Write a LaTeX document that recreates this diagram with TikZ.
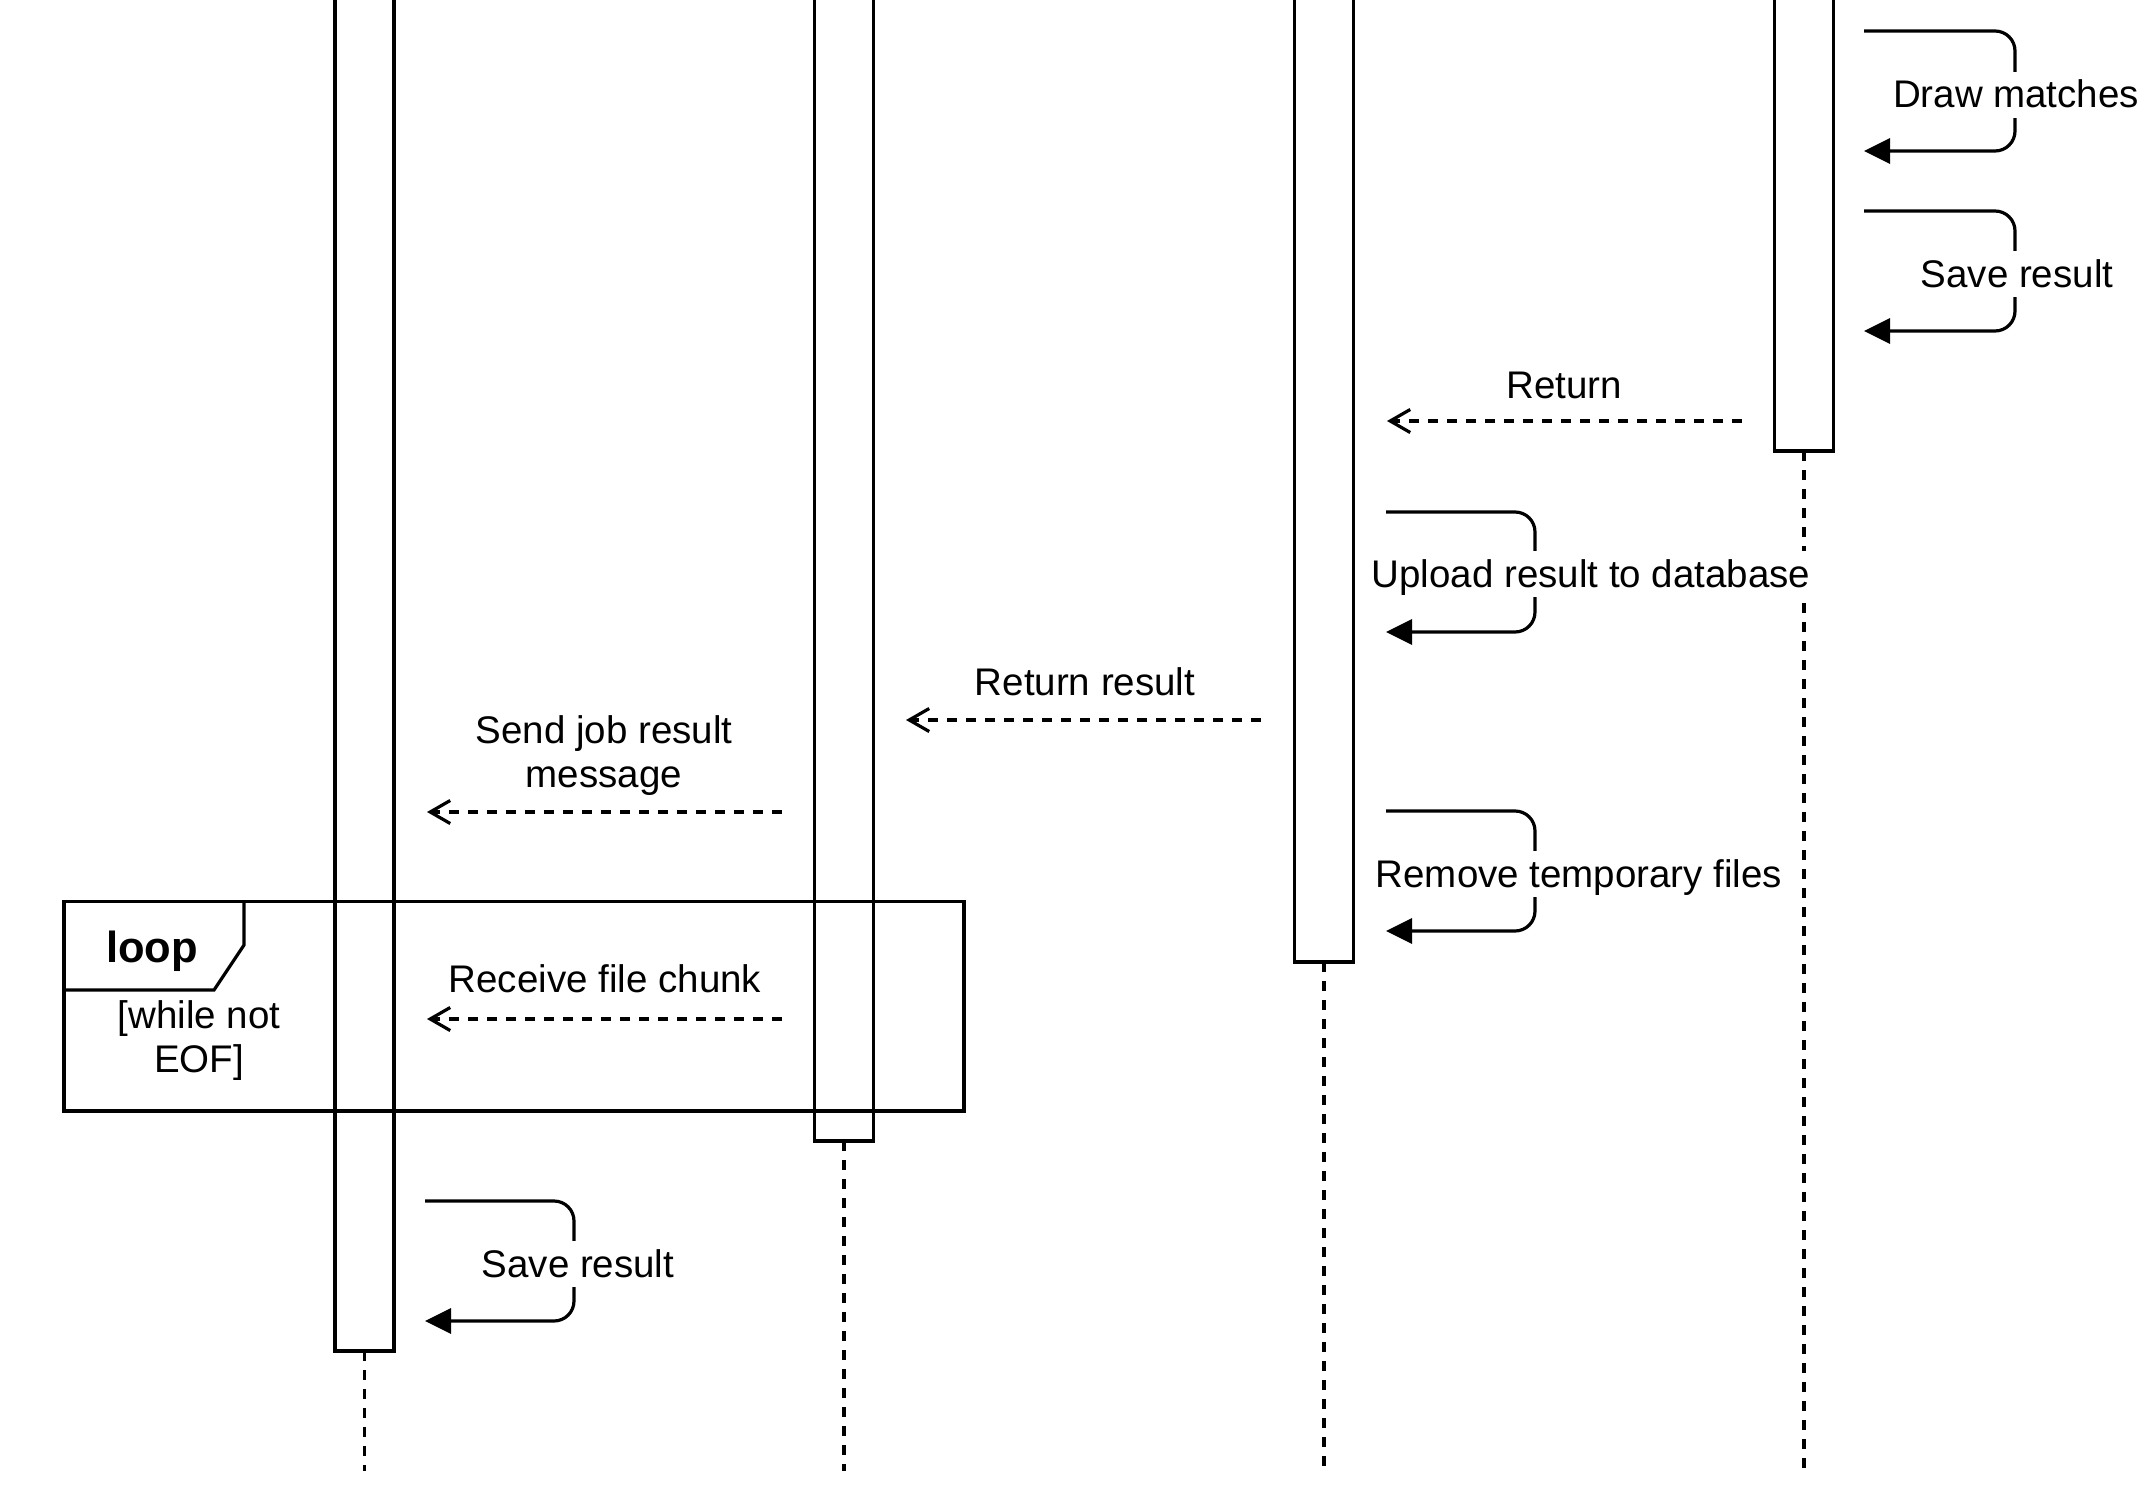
\documentclass[tikz,border=0pt]{standalone}
\usepackage{fontspec}
\setmainfont{Liberation Sans}
\usetikzlibrary{arrows.meta}
\begin{document}
\begin{tikzpicture}[x=1pt,y=-1pt,
  line width=3.2pt,
  actbox/.style={draw, fill=white, minimum width=59pt, inner sep=0pt, outer sep=0pt, anchor=south},
  lifeline/.style={dash pattern=on 10pt off 9pt},
  reply/.style={dash pattern=on 10pt off 9pt, -{Straight Barb[length=20pt,width=23pt]}},
  selfcall/.style={rounded corners=20pt, -{Triangle[length=26pt,width=25pt]}},
  msglabel/.style={font=\fontsize{38.5}{44}\selectfont, fill=white, inner sep=1pt,
    text height=35pt, text depth=9pt, anchor=base},
  plainlabel/.style={font=\fontsize{38.5}{44}\selectfont, inner sep=0pt, anchor=base},
  looplabel/.style={font=\fontsize{43.5}{50}\selectfont\bfseries, inner sep=0pt, anchor=base}]

\useasboundingbox (0,0) rectangle (2145,1485);
\clip (0,0) rectangle (2145,1485);

% activation bars
\node[actbox, minimum height=1361pt] (a1) at (364.5,1351) {};
\node[actbox, minimum height=1151pt] (a2) at (844,1141) {};
\node[actbox, minimum height=972pt]  (a3) at (1324,962) {};
\node[actbox, minimum height=461pt]  (a4) at (1804,451) {};

% lifelines below the bars
\coordinate (e1) at (364.5,1471);
\coordinate (e2) at (844,1471);
\coordinate (e3) at (1324,1471);
\coordinate (e4) at (1804,1471);
\draw[lifeline] (a1.south) -- (e1);
\draw[lifeline] (a2.south) -- (e2);
\draw[lifeline] (a3.south) -- (e3);
\draw[lifeline] (a4.south) -- (e4);

% self calls
\coordinate (dm) at (1864,31);
\draw[selfcall] (dm) -- ++(151,0) -- ++(0,120) -- ++(-151,0);
\node[msglabel] (ldm) at (2016,108) {Draw matches};

\coordinate (sr4) at (1864,211);
\draw[selfcall] (sr4) -- ++(151,0) -- ++(0,120) -- ++(-151,0);
\node[msglabel] (lsr4) at (2017,287) {Save result};

\coordinate (up) at (1386,512);
\draw[selfcall] (up) -- ++(149,0) -- ++(0,120) -- ++(-149,0);
\node[msglabel] (lup) at (1591,587) {Upload result to database};

\coordinate (rm) at (1386,811);
\draw[selfcall] (rm) -- ++(149,0) -- ++(0,120) -- ++(-149,0);
\node[msglabel] (lrm) at (1579,887) {Remove temporary files};

\coordinate (sr1) at (425,1201);
\draw[selfcall] (sr1) -- ++(149,0) -- ++(0,120) -- ++(-149,0);
\node[msglabel] (lsr1) at (578,1277) {Save result};

% replies
\coordinate (r1s) at (1742,421);
\coordinate (r1e) at (1387,421);
\draw[reply] (r1s) -- (r1e);
\node[plainlabel] (lr1) at (1564,398) {Return};

\coordinate (r2s) at (1261,720);
\coordinate (r2e) at (906,720);
\draw[reply] (r2s) -- (r2e);
\node[plainlabel] (lr2) at (1085,695) {Return result};

\coordinate (r3s) at (782,812);
\coordinate (r3e) at (427,812);
\draw[reply] (r3s) -- (r3e);
\node[plainlabel] (lr3a) at (604,743) {Send job result};
\node[plainlabel] (lr3b) at (604,787) {message};

\coordinate (r4s) at (782,1019);
\coordinate (r4e) at (427,1019);
\draw[reply] (r4s) -- (r4e);
\node[plainlabel] (lr4) at (605,992) {Receive file chunk};

% loop fragment
\node[draw, anchor=north west, minimum width=900pt, minimum height=209.5pt,
      inner sep=0pt, outer sep=0pt] (loopframe) at (64,901.5) {};
\draw[line join=miter] (244,901.5) -- (244,945) -- (214,990) -- (loopframe.west |- 0,990);
\node[looplabel] (lloop) at (152,962.5) {loop};
\node[plainlabel] (lc1) at (199,1028) {[while not};
\node[plainlabel] (lc2) at (199,1072) {EOF]};
\end{tikzpicture}
\end{document}
